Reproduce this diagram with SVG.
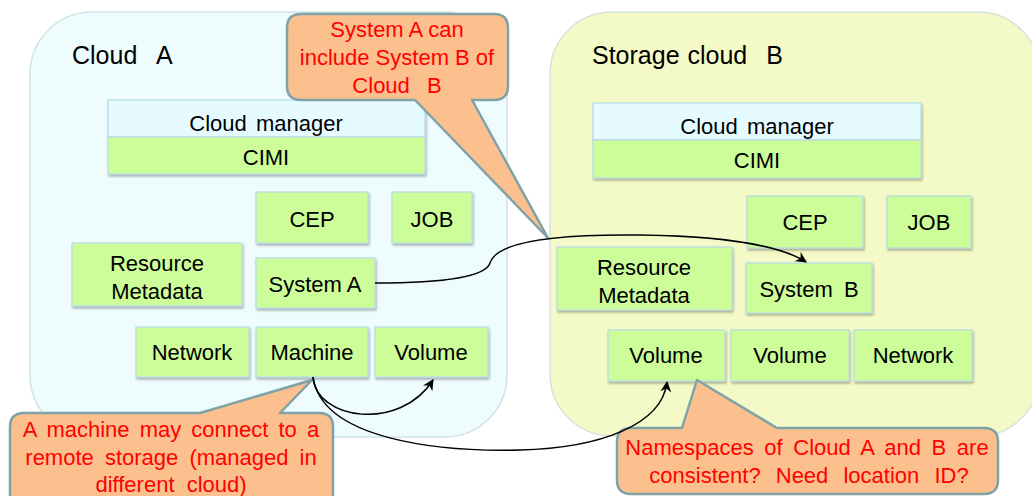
<svg xmlns="http://www.w3.org/2000/svg" width="1032" height="496" viewBox="0 0 1032 496">
<defs>
<filter id="sh" x="-10%" y="-10%" width="125%" height="140%">
<feDropShadow dx="1" dy="2" stdDeviation="1" flood-color="#000" flood-opacity="0.3"/>
</filter>
<marker id="arr" viewBox="0 0 10 10" refX="9" refY="5" markerWidth="11" markerHeight="11" markerUnits="userSpaceOnUse" orient="auto">
<path d="M0,0 L10,5 L0,10 L3,5 Z" fill="#000"/>
</marker>
</defs>
<style>
.cloudA{fill:#eefcfe;stroke:#cfe4e8;stroke-width:1.5}
.cloudB{fill:#f3fac7;stroke:#d3e4dc;stroke-width:1.5}
.box{fill:#ccfd99;stroke:#b6dae6;stroke-width:1.2;filter:url(#sh)}
.mgr{fill:#e6fbff;stroke:#b6dae6;stroke-width:1.2}
.t{font-family:"Liberation Sans",Arial,sans-serif;font-size:22px;fill:#000;text-anchor:middle}
.tm{font-family:"Liberation Sans",Arial,sans-serif;font-size:22px;fill:#000;text-anchor:middle;word-spacing:3px}
.title{font-family:"Liberation Sans",Arial,sans-serif;font-size:25px;fill:#000}
.call{fill:#fcc08f;stroke:#7fa2a6;stroke-width:2.5;stroke-linejoin:round}
.ct{font-family:"Liberation Sans",Arial,sans-serif;font-size:22px;fill:#ff0000;text-anchor:middle}
.conn{fill:none;stroke:#000;stroke-width:1.5;marker-end:url(#arr)}
</style>

<g id="cloudA">
<rect class="cloudA" x="30" y="12" width="477" height="425" rx="62"/>
<text class="title" x="72" y="64" style="word-spacing:13px">Cloud A</text>
</g>
<g id="cloudB">
<rect class="cloudB" x="550" y="12" width="490" height="424" rx="62"/>
<text class="title" x="592" y="64" style="word-spacing:1px">Storage cloud <tspan dx="11">B</tspan></text>
</g>

<g id="managerA">
<g filter="url(#sh)">
<rect class="mgr" x="108" y="100" width="317" height="37"/>
<rect class="box" style="filter:none" x="108" y="137" width="317" height="37"/>
</g>
<text class="tm" x="266" y="131">Cloud manager</text>
<text class="tm" x="266" y="165">CIMI</text>
</g>
<g id="cepA"><rect class="box" x="256" y="192" width="112" height="51"/><text class="t" x="312" y="227">CEP</text></g>
<g id="jobA"><rect class="box" x="392" y="192" width="80" height="51"/><text class="t" x="432" y="227">JOB</text></g>
<g id="metaA"><rect class="box" x="72" y="243" width="170" height="63"/><text class="t" x="157" y="271">Resource</text><text class="t" x="157" y="299">Metadata</text></g>
<g id="systemA"><rect class="box" x="256" y="258" width="119" height="50"/><text class="t" x="315" y="292">System A</text></g>
<g id="networkA"><rect class="box" x="136" y="327" width="113" height="50"/><text class="t" x="192" y="360">Network</text></g>
<g id="machineA"><rect class="box" x="256" y="327" width="112" height="50"/><text class="t" x="312" y="360">Machine</text></g>
<g id="volumeA"><rect class="box" x="375" y="327" width="113" height="50"/><text class="t" x="431" y="360">Volume</text></g>

<g id="managerB">
<g filter="url(#sh)">
<rect class="mgr" x="593" y="103" width="328" height="37"/>
<rect class="box" style="filter:none" x="593" y="140" width="328" height="38"/>
</g>
<text class="tm" x="757" y="134">Cloud manager</text>
<text class="tm" x="757" y="168">CIMI</text>
</g>
<g id="cepB"><rect class="box" x="747" y="196" width="116" height="52"/><text class="t" x="805" y="230">CEP</text></g>
<g id="jobB"><rect class="box" x="887" y="196" width="84" height="52"/><text class="t" x="929" y="230">JOB</text></g>
<g id="metaB"><rect class="box" x="557" y="247" width="175" height="63"/><text class="t" x="644" y="275">Resource</text><text class="t" x="644" y="303">Metadata</text></g>
<g id="systemB"><rect class="box" x="746" y="263" width="126" height="50"/><text class="t" x="809" y="297" style="word-spacing:5px">System B</text></g>
<g id="volumeB1"><rect class="box" x="608" y="330" width="117" height="51"/><text class="t" x="666" y="363">Volume</text></g>
<g id="volumeB2"><rect class="box" x="731" y="330" width="118" height="51"/><text class="t" x="790" y="363">Volume</text></g>
<g id="networkB"><rect class="box" x="854" y="330" width="118" height="51"/><text class="t" x="913" y="363">Network</text></g>

<g id="callout1">
<path class="call" d="M301,14 H494 Q508,14 508,28 V86 Q508,100 494,100 H472 L548,238 L415,100 H301 Q287,100 287,86 V28 Q287,14 301,14 Z"/>
<text class="ct" x="397" y="37">System A can</text>
<text class="ct" x="397" y="65">include System B of</text>
<text class="ct" x="397" y="93" style="word-spacing:11px">Cloud B</text>
</g>
<g id="callout2">
<path class="call" d="M24,413 H200 L312,380 L280,413 H319 Q333,413 333,427 V520 H10 V427 Q10,413 24,413 Z"/>
<text class="ct" x="171" y="437" style="word-spacing:4px">A machine may connect to a</text>
<text class="ct" x="171" y="465" style="word-spacing:5px">remote storage (managed in</text>
<text class="ct" x="171" y="492" style="word-spacing:6px">different cloud)</text>
</g>
<g id="callout3">
<path class="call" d="M631,428 H682 L697,380 L777,428 H984 Q998,428 998,442 V480 Q998,494 984,494 H631 Q617,494 617,480 V442 Q617,428 631,428 Z"/>
<text class="ct" x="807" y="455" style="word-spacing:4.5px">Namespaces of Cloud A and B are</text>
<text class="ct" x="809" y="483" style="word-spacing:9px">consistent? Need location ID?</text>
</g>

<g id="connectors">
<path class="conn" d="M375,283 C430,283 485,279 490,263 C497,240 560,234 640,235 C720,236 780,245 806,262"/>
<path class="conn" d="M313,377 C316,420 400,432 433,380"/>
<path class="conn" d="M313,377 C322,440 440,452 520,450 C600,448 662,425 667,382"/>
</g>
</svg>
